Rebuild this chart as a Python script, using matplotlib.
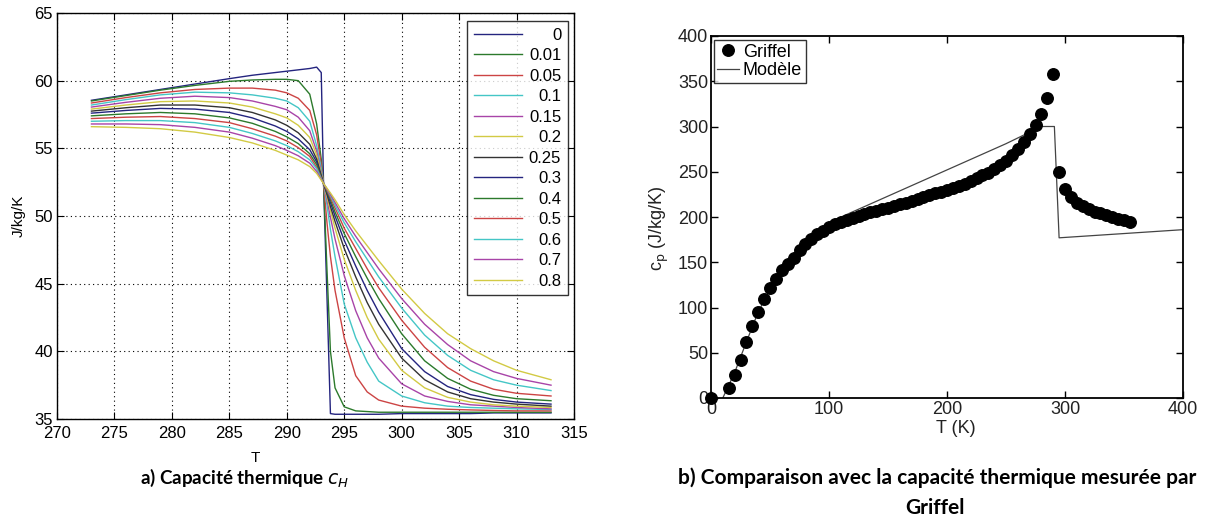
import matplotlib
matplotlib.use('Agg')
import matplotlib.pyplot as plt

# ---------------- a) capacite thermique c_H ----------------
t_grid = [273, 276, 279, 282, 285, 287, 289, 290, 291, 292, 292.6, 293.0, 293.2,
          293.5, 293.8, 294.2, 295, 296, 297, 298, 300, 302, 304, 306, 308, 310, 313]

labels_a = ['0', '0.01', '0.05', '0.1', '0.15', '0.2', '0.25',
            '0.3', '0.4', '0.5', '0.6', '0.7', '0.8']

cH_000 = [58.55, 58.95, 59.35, 59.75, 60.15, 60.4, 60.6, 60.7, 60.8, 60.9, 61.0, 60.6, 52.4,
          44.0, 35.4, 35.35, 35.35, 35.35, 35.35, 35.35, 35.4, 35.4, 35.4, 35.4, 35.45, 35.45, 35.45]
cH_001 = [58.5, 58.9, 59.3, 59.65, 59.95, 60.05, 60.1, 60.1, 60.0, 59.0, 56.8, 54.2, 52.4,
          46.0, 40.0, 37.3, 35.9, 35.6, 35.55, 35.5, 35.5, 35.5, 35.5, 35.5, 35.5, 35.5, 35.5]
cH_005 = [58.35, 58.75, 59.1, 59.35, 59.45, 59.45, 59.3, 59.1, 58.7, 57.8, 56.0, 53.8, 52.4,
          49.5, 47.0, 44.5, 41.0, 38.2, 37.0, 36.4, 35.95, 35.8, 35.72, 35.67, 35.63, 35.6, 35.6]
cH_010 = [58.2, 58.6, 58.95, 59.15, 59.1, 58.95, 58.7, 58.5, 58.0, 57.0, 55.2, 53.5, 52.4,
          50.8, 49.0, 47.0, 43.5, 41.0, 39.2, 37.8, 36.7, 36.2, 35.95, 35.85, 35.8, 35.75, 35.7]
cH_015 = [58.05, 58.4, 58.7, 58.85, 58.75, 58.5, 58.1, 57.85, 57.3, 56.3, 54.8, 53.2, 52.4,
          51.2, 49.9, 48.3, 45.6, 43.0, 41.0, 39.5, 37.6, 36.7, 36.3, 36.05, 35.95, 35.85, 35.75]
cH_020 = [57.9, 58.2, 58.45, 58.5, 58.35, 58.05, 57.55, 57.25, 56.7, 55.8, 54.5, 53.1, 52.4,
          51.4, 50.4, 49.1, 46.8, 44.5, 42.5, 40.9, 38.6, 37.3, 36.6, 36.25, 36.05, 35.95, 35.85]
cH_025 = [57.75, 58.0, 58.2, 58.2, 58.0, 57.65, 57.1, 56.7, 56.15, 55.3, 54.2, 53.0, 52.4,
          51.6, 50.7, 49.6, 47.6, 45.5, 43.6, 42.0, 39.5, 37.9, 37.0, 36.5, 36.25, 36.1, 35.95]
cH_030 = [57.6, 57.8, 57.95, 57.9, 57.65, 57.25, 56.65, 56.25, 55.7, 54.9, 54.0, 52.9, 52.4,
          51.7, 51.0, 50.0, 48.2, 46.3, 44.5, 42.9, 40.2, 38.5, 37.4, 36.8, 36.45, 36.25, 36.1]
cH_040 = [57.4, 57.55, 57.65, 57.55, 57.25, 56.85, 56.25, 55.85, 55.35, 54.6, 53.8, 52.85, 52.4,
          51.8, 51.2, 50.3, 48.7, 47.0, 45.4, 43.9, 41.3, 39.3, 38.0, 37.2, 36.75, 36.5, 36.35]
cH_050 = [57.2, 57.3, 57.35, 57.2, 56.9, 56.45, 55.9, 55.55, 55.05, 54.4, 53.6, 52.8, 52.4,
          51.9, 51.35, 50.6, 49.1, 47.6, 46.1, 44.7, 42.3, 40.3, 38.8, 37.8, 37.2, 36.9, 36.7]
cH_060 = [57.0, 57.05, 57.05, 56.9, 56.55, 56.1, 55.55, 55.2, 54.75, 54.15, 53.5, 52.75, 52.4,
          52.0, 51.5, 50.8, 49.5, 48.1, 46.8, 45.5, 43.2, 41.2, 39.7, 38.6, 37.9, 37.5, 37.1]
cH_070 = [56.8, 56.8, 56.75, 56.55, 56.2, 55.75, 55.2, 54.85, 54.45, 53.9, 53.3, 52.7, 52.4,
          52.0, 51.6, 51.0, 49.8, 48.5, 47.3, 46.1, 43.9, 42.0, 40.5, 39.3, 38.5, 38.0, 37.5]
cH_080 = [56.6, 56.55, 56.45, 56.2, 55.8, 55.4, 54.85, 54.5, 54.15, 53.65, 53.15, 52.65, 52.4,
          52.05, 51.7, 51.2, 50.1, 48.9, 47.8, 46.7, 44.6, 42.8, 41.3, 40.2, 39.3, 38.6, 37.9]

curves_a = [cH_000, cH_001, cH_005, cH_010, cH_015, cH_020, cH_025,
            cH_030, cH_040, cH_050, cH_060, cH_070, cH_080]

# ---------------- b) comparaison avec Griffel ----------------
t_griffel = [0, 15, 20, 25, 30, 35, 40, 45, 50, 55, 60, 65, 70, 75, 80, 85, 90, 95,
             100, 105, 110, 115, 120, 125, 130, 135, 140, 145, 150, 155, 160, 165, 170,
             175, 180, 185, 190, 195, 200, 205, 210, 215, 220, 225, 230, 235, 240, 245,
             250, 255, 260, 265, 270, 275, 280, 285, 290, 295, 300, 305, 310, 315, 320,
             325, 330, 335, 340, 345, 350, 355]
cp_griffel = [0.5, 11, 25, 42, 62, 80, 95, 109, 122, 132, 141, 148, 155, 163, 170, 176, 181, 185,
              189, 192, 195, 197, 199, 201, 203, 205, 207, 208.5, 210, 212, 214, 216, 218,
              220, 222, 224, 226, 228, 230, 232, 234, 237, 240, 243, 246, 249, 253, 257,
              262, 268, 275, 283, 292, 302, 314, 331, 358, 250, 231, 222, 216, 212, 209,
              206, 204, 202, 200, 198, 196.5, 195]

t_model = [10, 20, 30, 40, 50, 60, 70, 80, 90, 105, 250, 280, 291, 295, 400]
cp_model = [0, 28, 62, 95, 120, 140, 155, 168, 180, 197, 281, 300, 300, 177, 186]

matlab_colors = ['#24247f', '#2c7a2c', '#cc4444', '#44c6c6', '#a844a8', '#d2ca44', '#333333']

narrow = ['Liberation Sans Narrow', 'Liberation Sans', 'DejaVu Sans']
arial = ['Liberation Sans', 'DejaVu Sans']

fig = plt.figure(figsize=(12.08, 5.20), dpi=100)
fig.patch.set_facecolor('white')

# ---- left panel
ax1 = fig.add_axes([57 / 1208, 1 - 419 / 520, 517 / 1208, 406 / 520])
for i, (vals, lab) in enumerate(zip(curves_a, labels_a)):
    ax1.plot(t_grid, vals, color=matlab_colors[i % 7], linewidth=1.0, label=lab)

ax1.set_xlim(270, 315)
ax1.set_ylim(35, 65)
ax1.set_xticks(range(270, 316, 5))
ax1.set_yticks(range(35, 66, 5))
ax1.grid(True, color='black', linestyle=(0, (1, 3)), linewidth=0.8)
ax1.tick_params(direction='in', top=True, right=True, length=5, width=0.8,
                labelsize=12, pad=3)
ax1.tick_params(axis='x', pad=5)
for lbl in ax1.get_xticklabels() + ax1.get_yticklabels():
    lbl.set_family(narrow)
for sp in ax1.spines.values():
    sp.set_linewidth(1.0)
ax1.set_xlabel('T', fontsize=11, family=narrow, labelpad=3)
ax1.xaxis.set_label_coords(0.383, -0.078)
ax1.set_ylabel('J/kg/K', fontsize=11, family=narrow, labelpad=6)

leg1 = ax1.legend(loc='upper right', bbox_to_anchor=(0.988, 0.980), frameon=True,
                  fancybox=False, edgecolor='black', handlelength=2.9,
                  labelspacing=0.33, borderaxespad=0, borderpad=0.4, handletextpad=0.4,
                  prop={'family': narrow, 'size': 12})
leg1.get_frame().set_linewidth(1.0)
# right-align the legend labels like the original
fig.canvas.draw()
renderer = fig.canvas.get_renderer()
widths = [t.get_window_extent(renderer).width for t in leg1.get_texts()]
wmax = max(widths)
for t, w in zip(leg1.get_texts(), widths):
    t.set_position((wmax - w, 0))

# ---- right panel
ax2 = fig.add_axes([711 / 1208, 1 - 398 / 520, 472 / 1208, 362 / 520])
ax2.plot(t_griffel, cp_griffel, linestyle='none', marker='o', markersize=8.3,
         color='black', label='Griffel', clip_on=False, zorder=3)
ax2.plot(t_model, cp_model, color='#444444', linewidth=0.9, label='Modèle', zorder=2)
ax2.set_xlim(0, 400)
ax2.set_ylim(0, 400)
ax2.set_xticks(range(0, 401, 100))
ax2.set_yticks(range(0, 401, 50))
ax2.tick_params(direction='in', top=True, right=True, length=5, width=1.0,
                labelsize=13, pad=2, labelcolor='#222222')
for lbl in ax2.get_xticklabels() + ax2.get_yticklabels():
    lbl.set_family(arial)
for sp in ax2.spines.values():
    sp.set_linewidth(1.3)
ax2.set_xlabel('T (K)', fontsize=13, family=arial, labelpad=-2, color='#222222')
ax2.xaxis.set_label_coords(0.519, -0.06)
ax2.set_ylabel(r'c$_\mathrm{p}$ (J/kg/K)', fontsize=13, family=arial, color='#222222')
ax2.yaxis.set_label_coords(-0.085, 0.47)
leg2 = ax2.legend(loc='upper left', bbox_to_anchor=(0.006, 0.989), frameon=True,
                  fancybox=False, edgecolor='black', handlelength=1.2, handletextpad=0.2,
                  labelspacing=0.1, borderaxespad=0, borderpad=0.2,
                  prop={'family': arial, 'size': 13})
leg2.get_frame().set_linewidth(1.0)

# ---- captions
cap_font = ['Lato', 'DejaVu Sans']
fig.text(245 / 1208, 1 - 478 / 520, 'a) Capacité thermique $c_H$', ha='center', va='center',
         fontsize=13.5, fontweight='bold', family=cap_font)
fig.text(937 / 1208, 1 - 478 / 520, 'b) Comparaison avec la capacité thermique mesurée par',
         ha='center', va='center', fontsize=15, fontweight='bold', family=cap_font)
fig.text(935 / 1208, 1 - 508 / 520, 'Griffel', ha='center', va='center',
         fontsize=15, fontweight='bold', family=cap_font)

fig.savefig('out.png', dpi=100)
